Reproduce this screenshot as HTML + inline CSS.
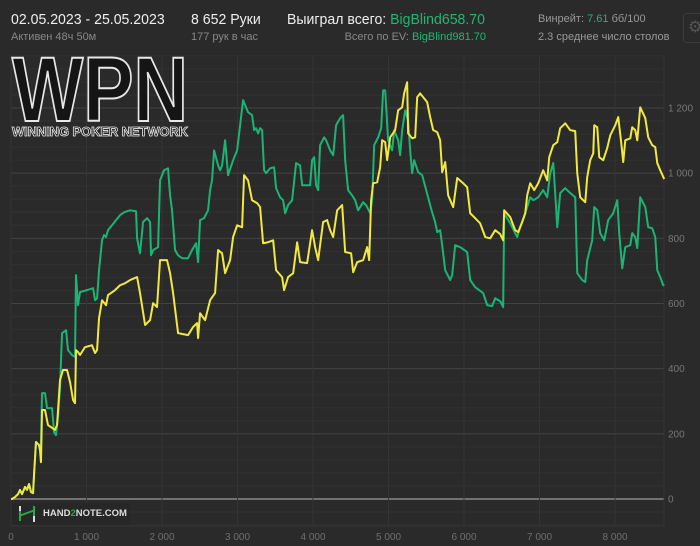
<!DOCTYPE html>
<html><head><meta charset="utf-8"><style>
body{margin:0;background:#2a2a2a;width:700px;height:546px;overflow:hidden;font-family:"Liberation Sans","DejaVu Sans",sans-serif}
.t{position:absolute;white-space:nowrap}
</style></head><body>
<div class="t" style="left:11px;top:11px;font-size:15px;color:#eee;transform:scaleX(0.94);transform-origin:left">02.05.2023 - 25.05.2023</div>
<div class="t" style="left:11px;top:31px;font-size:11px;color:#888">Активен 48ч 50м</div>
<div class="t" style="left:191px;top:11px;font-size:15px;color:#eee;transform:scaleX(0.94);transform-origin:left">8 652 Руки</div>
<div class="t" style="left:191px;top:31px;font-size:11px;color:#888">177 рук в час</div>
<div class="t" style="left:287px;top:11px;font-size:15px;color:#eee;transform:scaleX(0.94);transform-origin:left">Выиграл всего: <span style="color:#1db870">BigBlind658.70</span></div>
<div class="t" style="right:214px;top:31px;font-size:11px;color:#888">Всего по EV: <span style="color:#1db870">BigBlind981.70</span></div>
<div class="t" style="left:538px;top:13px;font-size:11px;color:#999">Винрейт: <span style="color:#1db870">7.61</span> бб/100</div>
<div class="t" style="left:538px;top:31px;font-size:11px;color:#999">2.3 среднее число столов</div>
<div style="position:absolute;left:683px;top:13px;width:24px;height:28px;border:1px solid #3c3c3c;border-radius:3px;color:#555;font-size:16px;line-height:28px;text-indent:4px">⚙</div>
<svg id="c" width="700" height="546" style="position:absolute;left:0;top:0"></svg>
<script>
const xTicks=[0,1000,2000,3000,4000,5000,6000,7000,8000];
const xTickLabels=["0","1 000","2 000","3 000","4 000","5 000","6 000","7 000","8 000"];
const yTicks=[0,200,400,600,800,1000,1200];
const yTickLabels=["0","200","400","600","800","1 000","1 200"];
const commonHands=[0,13,53,93,119,146,186,212,239,265,292,305,331,371,384];
const commonVals=[0,0,6,15,28,15,37,28,46,21,18,74,175,166,150];
const greenHands=[397,411,451,477,543,570,596,623,649,676,729,755,808,848,861,888,914,1007,1087,1113,1140,1166,1206,1232,1259,1285,1338,1391,1444,1497,1577,1656,1670,1709,1749,1802,1842,1855,1882,1948,1974,2027,2080,2107,2133,2173,2213,2266,2345,2398,2451,2478,2504,2557,2610,2637,2663,2690,2743,2769,2796,2836,2875,2942,2995,3074,3140,3193,3220,3246,3273,3299,3326,3352,3379,3432,3485,3511,3564,3604,3631,3670,3723,3776,3829,3856,3962,3988,4015,4041,4068,4094,4147,4174,4227,4267,4306,4359,4399,4426,4465,4518,4558,4598,4664,4704,4757,4783,4810,4863,4903,4929,4956,4995,5048,5075,5128,5154,5181,5221,5260,5287,5313,5340,5393,5446,5499,5552,5578,5618,5645,5684,5711,5751,5817,5843,5883,5949,6042,6082,6148,6254,6307,6373,6413,6479,6519,6532,6612,6704,6744,6811,6877,6917,6983,7049,7102,7142,7182,7208,7235,7274,7341,7407,7473,7500,7566,7606,7632,7698,7725,7765,7804,7857,7910,7977,8030,8056,8096,8136,8202,8228,8268,8295,8334,8401,8440,8493,8533,8560,8599,8639,8652];
const greenVals=[159,325,325,279,279,205,196,255,340,509,518,457,442,436,687,595,635,641,647,610,616,702,794,810,804,825,840,856,871,880,886,883,800,754,850,862,850,748,764,773,978,1009,1015,932,886,764,748,739,739,764,785,727,856,862,886,948,978,1070,1024,1009,1024,1101,994,1040,1070,1224,1187,1178,1132,1138,1122,1138,1132,1009,1000,1015,1018,954,926,917,877,902,917,1031,1024,963,963,1040,1049,963,948,1086,1110,1101,1070,1055,1147,1169,1178,1040,948,932,917,886,911,902,877,917,1086,1110,1138,1254,1254,1101,1070,1132,1101,1055,1132,1193,1162,1070,1000,1040,1003,994,948,902,880,850,819,825,779,702,672,687,779,773,758,672,650,632,595,592,616,607,589,877,846,804,834,877,926,917,926,948,926,1000,1031,939,834,939,954,939,926,693,672,666,733,794,896,886,816,794,856,877,917,816,708,773,779,816,804,770,926,896,834,831,804,702,681,656,659];
const yellowHands=[397,411,451,490,583,610,649,689,742,782,822,848,861,888,914,980,1073,1113,1140,1166,1206,1259,1285,1378,1444,1510,1577,1670,1709,1776,1842,1882,1934,1974,2067,2107,2147,2213,2345,2412,2465,2478,2504,2571,2637,2703,2743,2796,2836,2902,2942,2995,3061,3087,3140,3193,3260,3299,3339,3405,3472,3511,3591,3617,3670,3737,3790,3829,3922,3988,4028,4068,4134,4187,4227,4267,4320,4386,4426,4505,4532,4585,4664,4717,4744,4770,4797,4850,4889,4916,4956,4982,5022,5088,5128,5181,5207,5247,5260,5313,5353,5380,5419,5512,5552,5592,5645,5684,5711,5751,5790,5857,5910,5989,6042,6082,6148,6214,6281,6347,6413,6479,6519,6532,6612,6678,6718,6771,6811,6837,6877,6930,6983,7049,7102,7129,7182,7235,7274,7341,7407,7473,7500,7539,7606,7632,7672,7712,7725,7765,7791,7844,7897,7937,8003,8043,8083,8109,8136,8202,8228,8268,8295,8334,8401,8440,8493,8533,8560,8599,8652];
const yellowVals=[113,273,273,227,212,227,365,396,396,359,304,294,457,451,442,466,472,448,457,555,610,595,626,641,656,662,672,681,632,534,549,601,589,733,733,693,632,509,503,528,540,494,570,549,610,632,764,754,693,733,804,840,834,994,978,917,908,896,785,788,794,702,681,641,681,693,788,727,724,825,773,733,850,856,825,804,886,902,758,754,696,727,733,773,733,917,969,972,1018,1101,1095,1040,1110,1132,1193,1202,1245,1279,1122,1107,1110,1233,1245,1218,1172,1132,1126,1101,1003,1034,932,896,985,969,957,877,862,846,804,800,825,813,794,886,865,825,819,850,877,932,969,948,969,1009,978,1049,1086,1095,1138,1153,1132,1129,1000,926,911,988,1040,1061,1147,1141,1049,1040,1077,1116,1147,1172,1092,1034,1101,1107,1141,1132,1101,1202,1169,1110,1086,1080,1031,1009,982];
const NS='http://www.w3.org/2000/svg';
const svg=document.getElementById('c');
const L=11,R=664,T=55,B=526;
const xs=h=>L+h*(615-11)/8000;
const ys=v=>499-v*(499-108)/1200;
function mk(tag,attrs,parent){const e=document.createElementNS(NS,tag);for(const k in attrs)e.setAttribute(k,attrs[k]);(parent||svg).appendChild(e);return e;}
for(let v=-80;v<=1360;v+=40){
  const major=v%200===0;
  const ln=mk('line',{x1:L,x2:R,y1:ys(v),y2:ys(v),stroke:v===0?'#8a8a8a':(major?'#434343':'#313131'),'stroke-width':v===0?1.5:1});
  
  
}
xTicks.forEach((h,i)=>{
  const ln=mk('line',{x1:xs(h),x2:xs(h),y1:T,y2:B,stroke:'#343434'});
  
  
  const t=mk('text',{x:xs(h),y:540,'text-anchor':'middle','font-size':10,fill:'#6f6f6f','font-family':'Liberation Sans, sans-serif'});
  t.textContent=xTickLabels[i];
  
  
});
mk('line',{x1:R,x2:R,y1:T,y2:B,stroke:'#343434'});
mk('line',{x1:L,x2:R,y1:B,y2:B,stroke:'#343434'});
yTicks.forEach((v,i)=>{
  const t=mk('text',{x:668,y:ys(v)+3.5,'font-size':10,fill:'#777','font-family':'Liberation Sans, sans-serif'});
  t.textContent=yTickLabels[i];
  
  
});
function pts(hs,vs){return commonHands.map((h,i)=>xs(h)+','+ys(commonVals[i])).concat(hs.map((h,i)=>xs(h)+','+ys(vs[i]))).join(' ');}
const gl=mk('polyline',{points:pts(greenHands,greenVals),fill:'none',stroke:'#1ab574','stroke-width':2,'stroke-linejoin':'round'});


const yl=mk('polyline',{points:pts(yellowHands,yellowVals),fill:'none',stroke:'#f2e93e','stroke-width':2,'stroke-linejoin':'round'});


</script>
<svg width="180" height="90" style="position:absolute;left:10px;top:50px">
<text x="2" y="71" font-size="92" font-weight="bold" font-family="Liberation Sans, sans-serif" fill="#151515" stroke="#e8e8e8" stroke-width="2" textLength="176" lengthAdjust="spacingAndGlyphs">WPN</text>
<text x="2" y="86" font-size="13" font-weight="bold" font-family="Liberation Sans, sans-serif" fill="#151515" stroke="#e8e8e8" stroke-width="0.8" textLength="176" lengthAdjust="spacingAndGlyphs">WINNING POKER NETWORK</text>
</svg>
<div style="position:absolute;left:12px;top:503px;width:118px;height:22px;background:#272727">
<div style="position:absolute;left:7px;top:3px;width:2px;height:6px;background:#ddd"></div>
<div style="position:absolute;left:7px;top:9px;width:16px;height:2px;background:#2aa845;transform:skewY(-20deg)"></div>
<div style="position:absolute;left:7px;top:8px;width:2px;height:10px;background:#2aa845"></div>
<div style="position:absolute;left:21px;top:3px;width:2px;height:10px;background:#2aa845"></div>
<div style="position:absolute;left:21px;top:13px;width:2px;height:6px;background:#ddd"></div>
<div class="t" style="left:31px;top:5px;font-size:9.5px;font-weight:bold;color:#ddd">HAND<span style="color:#2aa845">2</span>NOTE.COM</div>
</div>
</body></html>
